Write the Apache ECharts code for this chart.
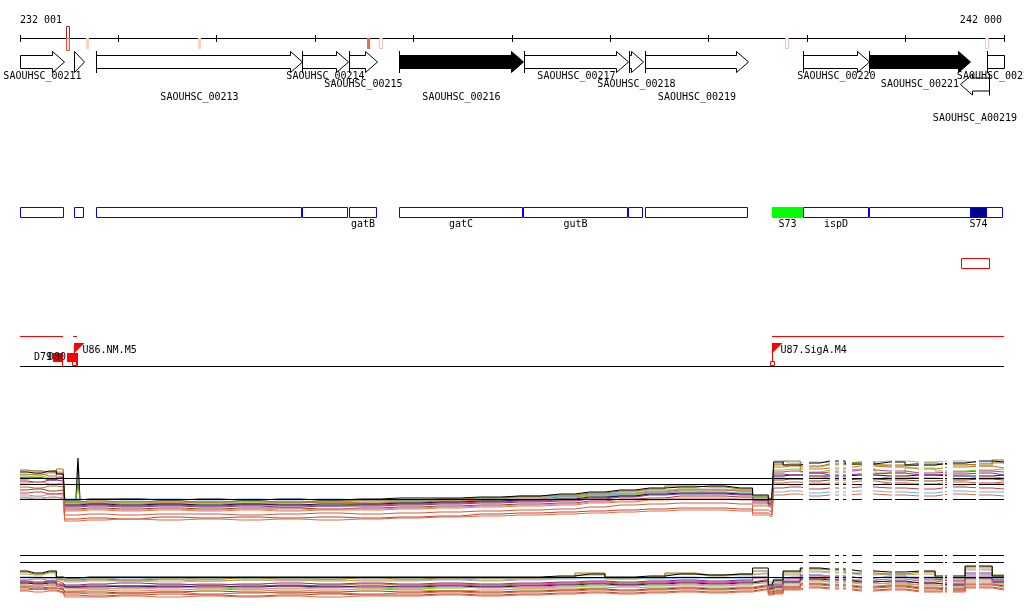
<!DOCTYPE html>
<html><head><meta charset="utf-8">
<script src="https://cdn.jsdelivr.net/npm/echarts@6/dist/echarts.min.js"></script>
<style>html,body{margin:0;padding:0;background:#fff}#c{width:1024px;height:611px}</style>
</head><body><div id="c"></div>
<script>
// ---------- data ----------
const rulerStart = 232001, rulerEnd = 242000;
const tickPositions = [232001,233001,234001,235001,236001,237001,238001,239001,240001,241001,242000];
const rulerLabels = ['232 001','242 000'];

const probeMarkPos = [232489,232682,233820,235537,235674,239800,241827];
const probeMarkScore = [0.9,0.2,0.2,0.8,0.15,0.15,0.15];

const geneNames = ['SAOUHSC_00211','SAOUHSC_00212','SAOUHSC_00213','SAOUHSC_00214','SAOUHSC_00215','SAOUHSC_00216','SAOUHSC_00217','SAOUHSC_00218','SAOUHSC_00219','SAOUHSC_00220','SAOUHSC_00221','SAOUHSC_00222','SAOUHSC_A00219'];
const geneStart = [231900,232550,232773,234867,235344,235852,237122,238189,238352,239958,240628,241827,241553];
const geneEnd   = [232448,232651,234867,235334,235629,237112,238179,238332,239399,240628,241654,242150,241848];
const geneStrand = [1,1,1,1,1,1,1,1,1,1,1,1,-1];
const geneEssential = [0,0,0,0,0,1,0,0,0,0,1,0,0];

const featNames = ['','','','','gatB','gatC','gutB','','','S73','ispD','','S74'];
const featStart = [232001,232550,232773,234867,235344,235852,237112,238179,238352,239642,239958,240628,241654];
const featEnd   = [232448,232651,234867,235334,235629,237112,238179,238332,239399,239958,240628,241990,241827];
const featKind  = ['cds','cds','cds','cds','cds','cds','cds','cds','cds','srnaA','cds','cds','srnaB'];
const extraStart = [241563], extraEnd = [241848];

const termStart = [232001,232540,239642], termEnd = [232438,232580,242000];
const promoterNames = ['U86.NM.M5','U87.SigA.M4'];
const promoterPos = [232545,239642];
const dNames = ['D79','D80'];
const dStart = [232336,232479], dEnd = [232438,232590];

const positions = [232001,232150,232300,232440,232470,232710,233020,233420,233830,234240,234640,235050,235460,235860,236270,236680,237080,237490,237790,238100,238400,238710,239010,239320,239570,239640,239680,239830,240030,240230,240540,240840,241150,241450,241760,242000];
const gapStart = [239958,240232,240323,240394,240557,240862,241136,241380,241421,241715];
const gapEnd   = [240018,240283,240364,240455,240669,240893,241187,241400,241481,241746];

const refLines1 = [9.3,8.1,5.1];
const refLines2 = [8.9,7.5,4.5];
const spikeX = [232570,232590,232610];
const spikeBlack = [5.0,13.4,5.0];
const spikeGreen = [5.0,8.6,5.0];

const b1_black = [10.6,10.4,10.8,10.2,5.0,5.2,5.2,5.0,5.2,5.0,5.2,5.0,5.2,5.4,5.4,5.6,5.8,6.2,6.6,7.0,7.4,7.6,7.8,7.4,6.0,5.2,12.6,12.0,12.4,12.8,12.2,12.6,12.0,12.4,12.8,12.6];
const b1_olive = [11.0,10.8,10.6,11.2,4.6,4.8,4.6,4.8,4.6,4.8,4.6,4.8,5.0,5.0,5.2,5.4,5.8,6.0,6.4,6.8,7.2,7.8,7.6,7.2,5.8,5.0,12.2,12.8,11.8,12.2,12.6,12.0,12.4,12.0,12.2,13.0];
const b1_choc = [10.0,10.2,9.8,10.4,4.2,4.4,4.2,4.4,4.4,4.2,4.4,4.6,4.4,4.6,4.8,5.0,5.2,5.6,6.0,6.2,6.6,7.0,7.0,6.8,5.4,4.8,11.6,11.8,11.2,11.4,11.8,11.6,11.2,11.6,11.8,11.4];
const b1_lav = [10.8,10.8,10.6,10.6,4.8,4.6,4.8,4.6,4.6,4.8,4.6,4.6,4.8,4.8,5.0,5.2,5.4,5.8,6.2,6.6,7.0,7.2,7.2,7.0,5.6,4.8,12.8,12.4,12.6,12.4,12.6,12.8,12.6,12.8,12.4,12.6];
const b1_mag = [9.2,9.4,9.0,9.6,3.8,4.0,3.8,4.0,3.8,4.0,4.0,3.8,4.0,4.2,4.4,4.6,4.8,5.0,5.4,5.8,6.2,6.4,6.4,6.2,5.0,4.4,10.6,10.8,10.4,10.6,11.0,10.8,10.4,10.6,10.8,10.6];
const b1_green = [9.6,9.8,9.4,9.6,4.4,4.2,4.4,4.0,4.2,4.4,4.2,4.0,4.2,4.4,4.6,4.8,5.0,5.4,5.8,6.0,6.4,6.8,6.6,6.4,5.2,4.6,11.0,11.2,10.6,11.0,11.2,10.4,11.4,10.8,11.0,11.2];
const b1_purple = [8.8,8.6,9.0,8.8,3.6,3.8,3.6,3.8,3.6,3.8,3.6,3.8,3.8,4.0,4.2,4.4,4.6,4.8,5.2,5.6,6.0,6.2,6.2,6.0,4.8,4.2,10.2,10.0,10.4,10.0,10.2,10.4,10.0,10.2,10.4,10.0];
const b1_blue = [5.6,5.6,5.4,5.6,5.2,5.0,5.2,5.2,5.0,5.2,5.0,5.2,5.0,5.0,5.2,5.4,5.6,5.8,6.0,6.2,6.4,6.6,6.6,6.4,5.6,5.2,6.6,6.8,6.4,6.6,6.8,6.6,6.4,6.8,6.6,6.6];
const b1_redbrown = [7.6,7.4,7.8,7.6,2.0,2.2,2.0,2.2,2.2,2.0,2.2,2.4,2.2,2.4,2.6,2.8,3.0,3.2,3.6,4.0,4.2,4.4,4.4,4.2,3.0,2.6,8.4,8.6,8.2,8.4,8.8,8.4,8.2,8.6,8.4,8.6];
const b1_orange = [8.4,8.6,8.2,8.4,2.8,3.0,2.8,3.0,2.8,3.0,2.8,3.0,3.0,3.2,3.4,3.6,3.8,4.0,4.4,4.6,5.0,5.2,5.2,5.0,3.8,3.4,9.4,9.2,9.6,9.4,9.2,9.6,9.4,9.2,9.6,9.4];
const b1_navy = [9.4,9.4,9.2,9.4,4.0,4.2,4.0,4.2,4.0,4.2,4.0,4.2,4.2,4.4,4.6,4.8,5.0,5.2,5.6,5.8,6.2,6.4,6.4,6.2,5.0,4.2,9.8,10.0,9.8,9.8,10.0,9.8,10.0,9.8,9.8,10.0];
const b1_brown = [7.0,7.2,6.8,7.0,3.2,3.4,3.2,3.4,3.2,3.4,3.4,3.2,3.4,3.6,3.8,4.0,4.2,4.4,4.8,5.2,5.4,5.8,5.8,5.6,4.4,3.8,9.0,9.2,8.8,9.0,9.2,9.0,8.8,9.0,9.2,9.0];
const b1_fire = [6.4,6.6,6.2,6.4,1.2,1.4,1.2,1.6,1.4,1.6,1.4,1.6,1.4,1.6,1.8,2.2,2.4,2.6,2.8,3.0,3.2,3.4,3.4,3.2,2.4,2.0,7.4,7.6,7.2,7.4,7.6,7.4,7.2,7.6,7.4,7.2];
const b1_tan = [10.2,10.0,10.4,10.0,4.6,4.4,4.6,4.4,4.6,4.4,4.6,4.4,4.6,4.8,5.0,5.2,5.6,5.8,6.2,6.4,6.8,7.2,7.0,6.8,5.6,5.0,12.0,12.2,11.6,12.0,12.2,11.8,12.0,12.2,11.8,12.4];
const b1_pink = [6.0,5.8,6.2,6.0,3.0,3.2,3.0,3.2,3.0,3.2,3.0,3.2,3.2,3.4,3.6,3.8,4.0,4.2,4.6,4.8,5.2,5.4,5.4,5.2,4.0,3.6,8.2,8.0,8.4,8.2,8.0,8.4,8.2,8.0,8.4,8.2];
const b1_coral = [5.4,5.2,5.6,5.2,0.8,1.0,1.2,1.0,1.2,1.0,1.2,1.0,1.2,1.4,1.6,1.8,2.0,2.2,2.4,2.6,2.8,3.0,3.0,2.8,2.0,1.6,6.0,6.2,5.8,6.0,6.2,6.0,5.8,6.2,6.0,5.8];

const b2_black = [5.8,5.4,5.8,4.6,4.4,4.6,4.6,4.6,4.6,4.6,4.6,4.6,4.6,4.6,4.6,4.6,4.6,4.8,5.2,4.6,4.8,5.2,5.0,5.2,6.4,3.0,4.0,5.8,6.4,6.2,5.8,5.6,5.8,4.8,6.8,4.8];
const b2_olive = [5.6,5.2,5.6,4.2,4.0,4.2,4.0,4.2,4.2,4.4,4.2,4.2,4.4,4.2,4.4,4.4,4.4,4.6,5.4,4.4,4.6,5.4,5.0,5.2,5.8,2.8,3.8,5.6,6.2,6.0,5.4,5.2,5.6,4.4,6.6,5.0];
const b2_choc = [4.0,4.2,3.8,3.4,2.8,3.0,2.8,3.0,3.2,3.0,2.8,3.0,3.2,3.0,3.2,3.0,3.2,3.4,3.6,3.4,3.6,3.8,3.6,3.8,4.4,2.4,3.0,4.2,4.8,4.6,4.0,4.2,3.8,3.4,5.0,4.0];
const b2_lav = [4.4,4.4,4.2,3.8,3.6,3.8,3.8,3.6,3.8,4.0,3.8,4.0,3.8,3.8,4.0,3.8,4.0,4.2,4.4,4.2,4.4,4.6,4.4,4.6,5.2,3.2,3.8,5.0,5.6,5.4,5.0,5.2,4.6,4.2,6.0,4.6];
const b2_mag = [3.6,3.4,3.6,3.0,2.6,2.8,2.6,2.8,2.6,2.8,3.0,2.8,2.6,2.8,3.0,2.8,3.0,3.2,3.4,3.2,3.4,3.6,3.4,3.6,4.0,2.2,2.8,3.8,4.4,4.2,3.8,3.6,3.4,3.2,4.6,3.8];
const b2_green = [3.2,3.4,3.0,2.6,2.4,2.2,2.4,2.6,2.4,2.2,2.4,2.6,2.4,2.2,2.4,2.6,2.4,2.6,2.8,3.0,2.8,3.0,2.8,3.0,3.6,2.0,2.4,3.4,4.0,3.6,3.4,3.2,3.0,2.8,4.2,3.4];
const b2_purple = [3.8,3.6,3.8,3.2,3.0,3.2,3.4,3.2,3.0,3.2,3.4,3.2,3.4,3.2,3.4,3.2,3.4,3.6,3.8,3.6,3.8,4.0,3.8,4.0,4.6,2.6,3.2,4.4,5.0,4.8,4.4,4.6,4.2,3.8,5.4,4.2];
const b2_blue = [4.6,4.6,4.4,4.2,4.2,4.4,4.2,4.4,4.2,4.4,4.4,4.2,4.4,4.4,4.2,4.4,4.4,4.4,4.4,4.4,4.2,4.4,4.4,4.4,4.6,3.6,4.2,4.6,5.0,4.8,4.4,4.8,4.2,4.4,5.2,4.4];
const b2_redbrown = [2.4,2.2,2.4,2.0,1.4,1.2,1.4,1.6,1.2,1.4,1.6,1.4,1.2,1.4,1.6,1.4,1.6,1.8,2.0,1.8,2.0,2.2,2.0,2.2,2.6,1.4,1.6,2.4,3.0,2.8,2.4,2.6,2.2,2.0,3.0,2.6];
const b2_orange = [2.8,3.0,2.8,2.4,1.8,2.0,1.8,2.0,2.2,2.0,1.8,2.0,2.2,2.0,1.8,2.0,2.2,2.2,2.4,2.6,2.4,2.6,2.4,2.6,3.0,1.8,2.0,2.8,3.4,3.2,2.8,3.0,2.6,2.4,3.6,3.0];
const b2_navy = [3.4,3.2,3.4,2.8,2.6,2.6,2.8,2.6,2.8,2.6,2.8,2.6,2.8,2.6,2.8,2.6,2.8,3.0,3.2,3.0,3.2,3.4,3.2,3.4,3.8,2.2,2.6,3.6,4.2,4.0,3.6,3.8,3.4,3.0,4.4,3.6];
const b2_brown = [2.6,2.6,2.4,2.2,1.6,1.6,1.4,1.6,1.8,1.6,1.4,1.6,1.8,1.6,1.8,1.6,1.8,2.0,2.2,2.0,2.2,2.4,2.2,2.4,2.8,1.6,1.8,2.6,3.2,3.0,2.6,2.8,2.4,2.2,3.2,2.8];
const b2_fire = [2.0,2.2,2.0,1.6,1.0,0.8,1.0,1.2,1.0,0.8,1.0,1.2,1.0,1.0,1.2,1.0,1.2,1.4,1.6,1.4,1.6,1.8,1.6,1.8,2.2,1.2,1.4,2.2,2.6,2.4,2.0,2.2,1.8,1.8,2.6,2.2];
const b2_tan = [5.2,5.0,5.4,4.0,3.8,4.0,3.8,4.0,3.8,4.0,4.0,3.8,4.0,4.0,4.2,4.0,4.2,4.4,5.0,4.2,4.4,5.2,4.8,5.0,5.4,2.6,3.6,5.2,5.8,5.6,5.2,5.0,5.2,4.0,6.2,4.8];
const b2_pink = [3.0,2.8,3.0,2.6,2.2,2.4,2.2,2.4,2.6,2.4,2.2,2.4,2.6,2.4,2.6,2.4,2.6,2.8,3.0,2.8,3.0,3.2,3.0,3.2,3.4,2.0,2.2,3.2,3.8,3.6,3.2,3.4,3.0,2.6,4.0,3.2];
const b2_coral = [1.8,1.6,1.8,1.4,0.6,0.6,0.8,0.6,0.8,0.6,0.8,0.6,0.8,0.8,1.0,0.8,1.0,1.2,1.4,1.2,1.4,1.6,1.4,1.6,2.0,1.0,1.2,2.0,2.4,2.2,1.8,2.0,1.6,1.6,2.4,2.0];

// ---------- styling / layout ----------
const FONT = '10px "DejaVu Sans Mono", "Liberation Mono", monospace';
const bpPerPx = (rulerEnd - rulerStart) / 984;
const xMin = rulerStart - 20 * bpPerPx, xMax = rulerEnd + 20 * bpPerPx;
const geneLabelRow = [0,null,2,0,1,2,0,1,2,0,1,0,3];
const rowY = [76.5,84.5,97,118];

const block1 = [
  [b1_lav,'#b0a8dc'],[b1_tan,'#c8a040'],[b1_choc,'#d2691e'],[b1_green,'#5fdc10'],[b1_mag,'#c8308a'],
  [b1_navy,'#141450'],[b1_purple,'#8b2a8b'],[b1_orange,'#e8823a'],[b1_brown,'#8b4513'],[b1_redbrown,'#cd5c3c'],
  [b1_pink,'#dd80c0'],[b1_fire,'#c84028'],[b1_coral,'#e06a40'],[b1_blue,'#66b3f0'],[b1_olive,'#8b8010'],[b1_black,'#000000']
];
const block2 = [
  [b2_lav,'#b0a8dc'],[b2_tan,'#c8a040'],[b2_choc,'#d2691e'],[b2_green,'#5fdc10'],[b2_mag,'#c8308a'],
  [b2_navy,'#141450'],[b2_purple,'#8b2a8b'],[b2_orange,'#e8823a'],[b2_brown,'#8b4513'],[b2_redbrown,'#cd5c3c'],
  [b2_pink,'#dd80c0'],[b2_fire,'#c84028'],[b2_coral,'#e06a40'],[b2_blue,'#66b3f0'],[b2_olive,'#8b8010'],[b2_black,'#000000']
];

const chart = echarts.init(document.getElementById('c'));
const X = (api, bp) => api.coord([bp, 0])[0];
const crisp = v => Math.round(v) + 0.5;

const series = [];

// ruler line
series.push({type:'line', xAxisIndex:0, yAxisIndex:0, data:[[rulerStart,38.5],[rulerEnd,38.5]], symbol:'none', lineStyle:{color:'#000',width:1}, silent:true, z:3});
// ticks
series.push({type:'custom', xAxisIndex:0, yAxisIndex:0, silent:true, z:3,
  data: tickPositions.map(t => [t, 0]),
  renderItem(p, api){ const x = crisp(X(api, tickPositions[p.dataIndex]) - 0.5);
    return {type:'line', shape:{x1:x,y1:35,x2:x,y2:42}, style:{stroke:'#000',lineWidth:1}}; }
});
// ruler labels
series.push({type:'custom', xAxisIndex:0, yAxisIndex:0, silent:true, z:3,
  data: [[rulerStart,0],[rulerEnd,0]],
  renderItem(p, api){ const i = p.dataIndex; const x = X(api, i ? rulerEnd : rulerStart);
    return {type:'text', style:{text: rulerLabels[i], x: i ? x - 2 : x, y: 20, font: FONT, fill:'#000', align: i ? 'right':'left', verticalAlign:'middle'}}; }
});
// probe marks on ruler
series.push({type:'custom', xAxisIndex:0, yAxisIndex:0, silent:true, z:4,
  data: probeMarkPos.map(v => [v, 0]),
  renderItem(p, api){ const i = p.dataIndex; const x = Math.round(X(api, probeMarkPos[i])); const s = probeMarkScore[i];
    if (s > 0.85) return {type:'group', children:[
      {type:'rect', shape:{x:x-1.5,y:26.5,width:3,height:12}, style:{fill:'#fff',stroke:'#b02020',lineWidth:1}},
      {type:'rect', shape:{x:x-1.5,y:38.5,width:3,height:12}, style:{fill:'#fde0d8',stroke:'#f05a3a',lineWidth:1}}]};
    if (s > 0.5) return {type:'rect', shape:{x:x-1,y:38,width:3,height:11}, style:{fill:'#f06a48'}};
    if (s > 0.18) return {type:'rect', shape:{x:x-1,y:38,width:3,height:11}, style:{fill:'#f8d2c2'}};
    return {type:'rect', shape:{x:x-1.5,y:38.5,width:3,height:10}, style:{fill:'#fff',stroke:'#f6c4b4',lineWidth:1}};
  }
});
// genes
series.push({type:'custom', xAxisIndex:0, yAxisIndex:0, silent:true, z:4,
  data: geneStart.map((s,i) => [s, geneEnd[i]]),
  renderItem(p, api){
    const i = p.dataIndex;
    const cs = Math.max(geneStart[i], rulerStart), ce = Math.min(geneEnd[i], rulerEnd);
    const x1 = Math.round(X(api, cs)) + 0.5, x2 = Math.round(X(api, ce)) + 0.5;
    const clipL = geneStart[i] < rulerStart, clipR = geneEnd[i] > rulerEnd;
    const st = geneStrand[i];
    const yc = st > 0 ? 62 : 84.5, sh = 6.5, hh = 10.5, hl = 12;
    const len = x2 - x1; let pts;
    if (st > 0) {
      if (clipR) pts = [[x1,yc-sh],[x2,yc-sh],[x2,yc+sh],[x1,yc+sh]];
      else if (len <= hl) pts = [[x1,yc-hh],[x2,yc],[x1,yc+hh]];
      else { const xb = x2 - hl; pts = [[x1,yc-sh],[xb,yc-sh],[xb,yc-hh],[x2,yc],[xb,yc+hh],[xb,yc+sh],[x1,yc+sh]]; }
    } else {
      const xb = x1 + hl; pts = [[x2,yc-sh],[xb,yc-sh],[xb,yc-hh],[x1,yc],[xb,yc+hh],[xb,yc+sh],[x2,yc+sh]];
    }
    const fill = geneEssential[i] ? '#000' : '#fff';
    const ch = [{type:'polygon', shape:{points:pts}, style:{fill, stroke:'#000', lineWidth:1}}];
    const hasBar = !clipL && len > hl;
    if (hasBar) { const bx = st > 0 ? x1 : x2; ch.push({type:'line', shape:{x1:bx,y1:yc-hh-0.5,x2:bx,y2:yc+hh+0.5}, style:{stroke:'#000',lineWidth:1}}); }
    const r = geneLabelRow[i];
    if (r !== null) ch.push({type:'text', z2:10, style:{text: geneNames[i], x:(x1+x2)/2, y: rowY[r], font: FONT, fill:'#000', align:'center', verticalAlign:'middle'}});
    return {type:'group', children: ch};
  }
});
// feature track
series.push({type:'custom', xAxisIndex:0, yAxisIndex:0, silent:true, z:4,
  data: featStart.map((s,i) => [s, featEnd[i]]),
  renderItem(p, api){
    const i = p.dataIndex;
    const x1 = Math.round(X(api, featStart[i])) + 0.5, x2 = Math.round(X(api, featEnd[i])) - 0.5;
    const k = featKind[i];
    const fill = k === 'srnaA' ? '#00ff00' : k === 'srnaB' ? '#000090' : '#fff';
    const ch = [{type:'rect', shape:{x:x1,y:207.5,width:x2-x1,height:10}, style:{fill, stroke: k==='srnaA' ? '#00ff00' : '#0000ff', lineWidth:1}}];
    if (featNames[i]) ch.push({type:'text', style:{text:featNames[i], x:(x1+x2)/2, y:224.5, font:FONT, fill:'#000', align:'center', verticalAlign:'middle'}});
    return {type:'group', children: ch};
  }
});
series.push({type:'custom', xAxisIndex:0, yAxisIndex:0, silent:true, z:4,
  data: extraStart.map((s,i) => [s, extraEnd[i]]),
  renderItem(p, api){ const i = p.dataIndex;
    const x1 = Math.round(X(api, extraStart[i])) + 0.5, x2 = Math.round(X(api, extraEnd[i])) + 0.5;
    return {type:'rect', shape:{x:x1,y:258.5,width:x2-x1,height:10}, style:{fill:'#fff',stroke:'#ff0000',lineWidth:1}}; }
});
// terminator / range lines
series.push({type:'custom', xAxisIndex:0, yAxisIndex:0, silent:true, z:4,
  data: termStart.map((s,i) => [s, termEnd[i]]),
  renderItem(p, api){ const i = p.dataIndex;
    return {type:'line', shape:{x1:X(api, termStart[i]), y1:336.5, x2:X(api, termEnd[i]), y2:336.5}, style:{stroke:'#ff0000', lineWidth:1}}; }
});
// baseline
series.push({type:'line', xAxisIndex:0, yAxisIndex:0, data:[[rulerStart,366.5],[rulerEnd,366.5]], symbol:'none', lineStyle:{color:'#000',width:1}, silent:true, z:3});
// D boxes
series.push({type:'custom', xAxisIndex:0, yAxisIndex:0, silent:true, z:5,
  data: dStart.map((s,i) => [s, dEnd[i]]),
  renderItem(p, api){ const i = p.dataIndex;
    const x1 = Math.round(X(api, dStart[i])), x2 = Math.round(X(api, dEnd[i]));
    return {type:'group', children:[
      {type:'rect', shape:{x:x1,y:353,width:x2-x1,height:9}, style:{fill:'#ff0000'}},
      {type:'line', shape:{x1:x2-0.5,y1:362,x2:x2-0.5,y2:367}, style:{stroke:'#ff0000',lineWidth:1}},
      {type:'text', z2:10, style:{text:dNames[i], x:x1-1, y:357.5, font:FONT, fill:'#000', align:'right', verticalAlign:'middle'}}]}; }
});
// promoters
series.push({type:'custom', xAxisIndex:0, yAxisIndex:0, silent:true, z:6,
  data: promoterPos.map(v => [v, 0]),
  renderItem(p, api){ const i = p.dataIndex; const x = Math.round(X(api, promoterPos[i])) + 0.5;
    return {type:'group', children:[
      {type:'line', shape:{x1:x,y1:343,x2:x,y2:366}, style:{stroke:'#ff0000',lineWidth:1}},
      {type:'polygon', shape:{points:[[x,343],[x+10,343],[x,353]]}, style:{fill:'#ff0000'}},
      {type:'rect', shape:{x:x-2,y:361.5,width:4,height:4}, style:{fill:'#fff',stroke:'#ff0000',lineWidth:1}},
      {type:'text', style:{text:promoterNames[i], x:x+8, y:350.5, font:FONT, fill:'#000', align:'left', verticalAlign:'middle'}}]}; }
});

// expression block 1
block1.forEach(([vals, color]) => series.push({type:'line', xAxisIndex:1, yAxisIndex:1, symbol:'none', silent:true, z:2, step:'middle',
  data: positions.map((x,k) => [x, vals[k]]), lineStyle:{color, width:1}}));
series.push({type:'line', xAxisIndex:1, yAxisIndex:1, symbol:'none', silent:true, z:2, data: spikeX.map((x,k)=>[x, spikeGreen[k]]), lineStyle:{color:'#6a9a10', width:1.2}});
series.push({type:'line', xAxisIndex:1, yAxisIndex:1, symbol:'none', silent:true, z:1, data: spikeX.map((x,k)=>[x, spikeBlack[k]]), lineStyle:{color:'#000', width:1.2}});
refLines1.forEach(v => series.push({type:'line', xAxisIndex:1, yAxisIndex:1, symbol:'none', silent:true, z:3, data:[[rulerStart,v],[rulerEnd,v]], lineStyle:{color:'#000',width:1}}));
// expression block 2
block2.forEach(([vals, color]) => series.push({type:'line', xAxisIndex:2, yAxisIndex:2, symbol:'none', silent:true, z:2, step:'middle',
  data: positions.map((x,k) => [x, vals[k]]), lineStyle:{color, width:1}}));
refLines2.forEach(v => series.push({type:'line', xAxisIndex:2, yAxisIndex:2, symbol:'none', silent:true, z:3, data:[[rulerStart,v],[rulerEnd,v]], lineStyle:{color:'#000',width:1}}));
// gaps (no probe data)
[1,2].forEach(g => series.push({type:'custom', xAxisIndex:g, yAxisIndex:g, silent:true, z:10,
  data: gapStart.map((s,i) => [s, gapEnd[i]]),
  renderItem(p, api){ const i = p.dataIndex; const yMax = g === 1 ? 14 : 10;
    const a = api.coord([gapStart[i], yMax]), b = api.coord([gapEnd[i], 0]);
    return {type:'rect', shape:{x:a[0], y:a[1]-3, width:b[0]-a[0], height:b[1]-a[1]+6}, style:{fill:'#fff'}}; }
}));

const xa = i => ({type:'value', gridIndex:i, min:xMin, max:xMax, show:false});
chart.setOption({
  animation:false,
  backgroundColor:'#fff',
  grid:[{left:0,right:0,top:0,bottom:0},{left:0,right:0,top:455,height:70},{left:0,right:0,top:550,height:50}],
  xAxis:[xa(0),xa(1),xa(2)],
  yAxis:[{type:'value',gridIndex:0,min:0,max:611,inverse:true,show:false},
         {type:'value',gridIndex:1,min:0,max:14,show:false},
         {type:'value',gridIndex:2,min:0,max:10,show:false}],
  series
});
</script></body></html>
